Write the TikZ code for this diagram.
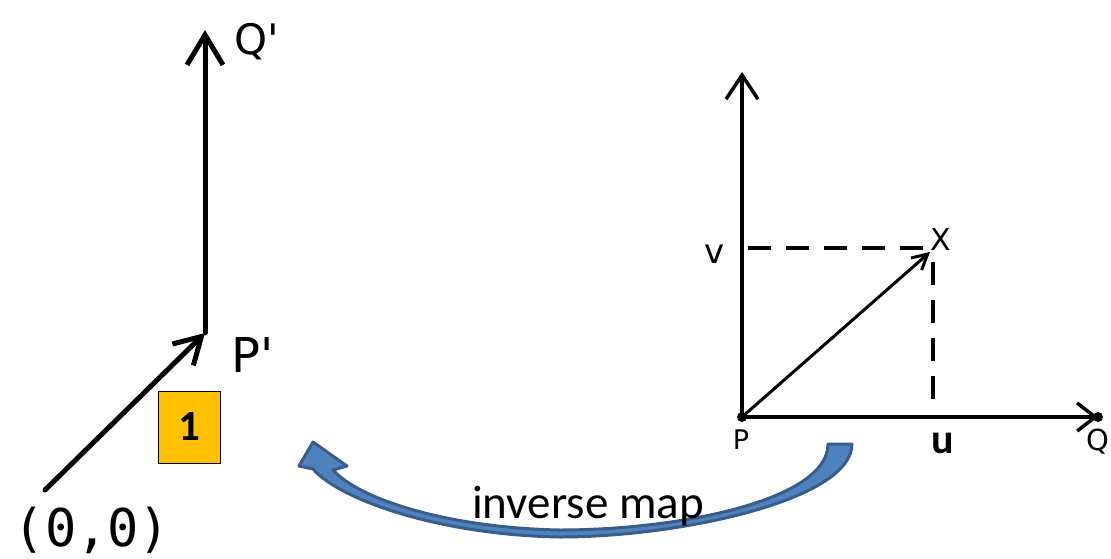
\documentclass[tikz,border=0pt]{standalone}
\usepackage{fontspec}
\setmainfont{Carlito}
\newfontfamily\handfont{DejaVu Sans}
\newfontfamily\handmono{DejaVu Sans Mono}
\usetikzlibrary{arrows.meta}
\definecolor{kastengelb}{RGB}{255,192,0}
\definecolor{pfeilblau}{RGB}{79,129,189}
\definecolor{pfeilrand}{RGB}{56,93,138}
\begin{document}
\begin{tikzpicture}[x=1pt,y=-1pt,
  dick/.style={line width=5pt,line cap=round},
  achse/.style={line width=3.5pt},
  gestrichelt/.style={line width=3.5pt,dash pattern=on 23pt off 15pt},
  hand/.style={inner sep=0pt,anchor=base,font=\handfont},
  punkt/.style={circle,fill=black,inner sep=0pt,minimum size=10pt}]
\useasboundingbox (0,0) rectangle (1111,558);

% Punkte links
\coordinate (O) at (45,490);
\coordinate (P1) at (205,333);
\coordinate (Q1) at (205,30);

% Pfeile links
\draw[dick,-{Straight Barb[length=26pt,width=30pt]}] (O) -- (P1);
\draw[dick,-{Straight Barb[length=30pt,width=36pt]}] (P1) -- (Q1);

\node[hand,anchor=base west,font=\handfont\fontsize{42}{44}\selectfont] (lq1) at (234,54) {Q\textquotesingle};
\node[hand,anchor=base west,font=\handfont\fontsize{48}{50}\selectfont] (lp1) at (231,372) {P\textquotesingle};
\node[inner sep=0pt,font=\handmono\fontsize{52}{54}\selectfont] (lo) at (92,530) {(0,0)};

\node[draw=black,line width=1pt,fill=kastengelb,minimum width=62pt,minimum height=72pt,
      font=\bfseries\fontsize{43}{45}\selectfont] (box) at (189,427) {1};

% Achsen rechts
\node[punkt] (P) at (742,417) {};
\node[punkt] (Q) at (1098,417) {};
\coordinate (V) at (742,72);
\coordinate (X) at (930,252);
\draw[achse,-{Straight Barb[length=24pt,width=32pt]}] (P.center) -- (V);
\draw[achse,-{Straight Barb[length=18pt,width=28pt]}] (P.center) -- (Q.center);
\draw[line width=3pt,-{Straight Barb[length=15pt,width=16pt]}] (P.center) -- (X);

% gestrichelt
\coordinate (vh) at (748,248);
\coordinate (xh) at (923,248);
\coordinate (xv) at (933,262);
\coordinate (uv) at (933,413);
\draw[gestrichelt] (vh) -- (xh);
\draw[gestrichelt] (xv) -- (uv);

\node[hand,font=\handfont\fontsize{27}{29}\selectfont] (lp) at (741,449) {P};
\node[hand,font=\handfont\fontsize{29}{31}\selectfont] (lq) at (1098,450) {Q};
\node[hand,font=\handfont\fontsize{34}{36}\selectfont] (lv) at (715,263) {v};
\node[hand,font=\handfont\fontsize{30}{32}\selectfont] (lx) at (941,250) {X};
\node[inner sep=0pt,anchor=base,font=\bfseries\fontsize{42}{44}\selectfont] (lu) at (943,453) {u};

% gebogener Pfeil
\filldraw[fill=pfeilblau,draw=pfeilrand,line width=3pt,line join=round]
  (852,444) .. controls (852,500) and (680,537) .. (560,537)
  .. controls (440,535) and (340,500) .. (313,469)
  -- (299,466) -- (313,442) -- (347,466) -- (333,470)
  .. controls (360,500) and (450,528) .. (560,530)
  .. controls (680,530) and (828,500) .. (828,444) -- cycle;

\node[inner sep=0pt,anchor=base,font=\fontsize{47}{49}\selectfont] (lmap) at (588,518) {inverse map};

\end{tikzpicture}
\end{document}
